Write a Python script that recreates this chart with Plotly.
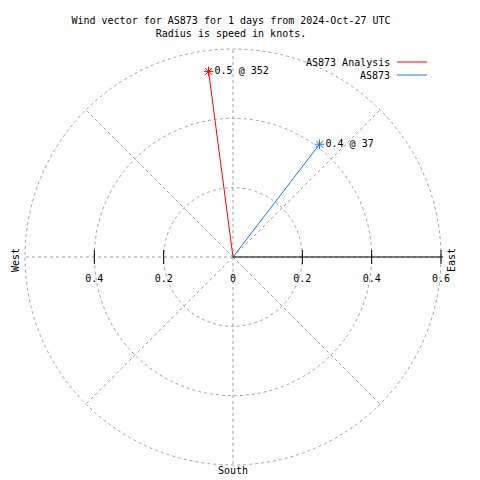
import plotly.graph_objects as go

# ---- data ----
series_names = ["AS873 Analysis", "AS873"]
speeds = [0.54, 0.41]            # knots
directions = [352.5, 37.5]       # degrees, clockwise from north
point_labels = ["0.5 @ 352", "0.4 @ 37"]
series_colors = ["#ff0000", "#1e78e6"]

radial_tick_vals = [0.2, 0.4, 0.6]
east_tick_vals = [0.2, 0.4, 0.6]
east_tick_text = ["0.2", "0.4", "0.6"]
west_tick_vals = [0.2, 0.4]
west_tick_text = ["0.2", "0.4"]
radial_max = 0.6
grid_angles = [0, 45, 90, 135, 180, 225, 270, 315]

title_text = "Wind vector for AS873 for 1 days from 2024-Oct-27 UTC<br>Radius is speed in knots."

FONT = "DejaVu Sans Mono"
GRID = "#a0a0a0"
W = H = 480
OFF = 8  # page body margin offset

def px(x):
    return (x - OFF) / W

def py(y):
    return 1 - (y - OFF) / H

fig = go.Figure()

# vectors
for name, s, d, col in zip(series_names, speeds, directions, series_colors):
    fig.add_trace(go.Scatterpolar(
        r=[0, s], theta=[d, d], mode="lines",
        line=dict(color=col, width=1), name=name, showlegend=False))

for s, d, lab, col in zip(speeds, directions, point_labels, series_colors):
    fig.add_trace(go.Scatterpolar(
        r=[s], theta=[d], mode="markers+text",
        marker=dict(symbol="asterisk-open", size=8, color=col,
                    line=dict(color=col, width=1)),
        text=[lab], textposition="middle right",
        textfont=dict(family=FONT, size=10, color="black"),
        showlegend=False, hoverinfo="skip"))

# radial tick marks on both sides
tick_r = east_tick_vals + west_tick_vals
tick_theta = [90] * len(east_tick_vals) + [270] * len(west_tick_vals)
fig.add_trace(go.Scatterpolar(
    r=tick_r, theta=tick_theta, mode="markers",
    marker=dict(symbol="line-ns-open", size=10, color="black",
                line=dict(color="black", width=1)),
    showlegend=False, hoverinfo="skip"))

# radial tick labels
lab_r = [0] + east_tick_vals + west_tick_vals
lab_theta = [90] + [90] * len(east_tick_vals) + [270] * len(west_tick_vals)
lab_text = ["0"] + east_tick_text + west_tick_text
fig.add_trace(go.Scatterpolar(
    r=lab_r, theta=lab_theta, mode="markers+text",
    marker=dict(size=6, opacity=0),
    text=["<br>" + t for t in lab_text], textposition="bottom center",
    textfont=dict(family=FONT, size=10, color="black"),
    showlegend=False, hoverinfo="skip"))

# geometry of the polar area (page pixels)
cx, cy, rad = 233, 257, 208
rng_max = radial_max * 1.01
R = rad * rng_max / radial_max

# custom gnuplot-style legend (text then line sample)
annotations = []
shapes = []
for i, (name, col) in enumerate(zip(series_names, series_colors)):
    yy = 62 + 13 * i
    annotations.append(dict(text=name, x=px(392), y=py(yy), xref="paper", yref="paper",
                            xanchor="right", yanchor="middle", showarrow=False,
                            font=dict(family=FONT, size=10, color="black")))
    shapes.append(dict(type="line", xref="paper", yref="paper",
                       x0=px(397), x1=px(427), y0=py(yy), y1=py(yy),
                       line=dict(color=col, width=1)))

annotations += [
    dict(text="West", x=px(15), y=py(260), xref="paper", yref="paper",
         xanchor="center", yanchor="middle",
         showarrow=False, textangle=-90, font=dict(family=FONT, size=10)),
    dict(text="East", x=px(451), y=py(260), xref="paper", yref="paper",
         xanchor="center", yanchor="middle",
         showarrow=False, textangle=-90, font=dict(family=FONT, size=10)),
    dict(text="South", x=px(233), y=py(470), xref="paper", yref="paper",
         xanchor="center", yanchor="middle",
         showarrow=False, font=dict(family=FONT, size=10)),
]

fig.update_layout(
    width=W, height=H,
    margin=dict(l=0, r=0, t=0, b=0),
    paper_bgcolor="white",
    font=dict(family=FONT, size=10, color="black"),
    title=dict(text=title_text, x=px(231), xanchor="center",
               y=1 - 16 / H, yanchor="top", yref="container",
               font=dict(family=FONT, size=10, color="black")),
    polar=dict(
        domain=dict(x=[px(cx - R), px(cx + R)], y=[py(cy + R), py(cy - R)]),
        bgcolor="white",
        radialaxis=dict(range=[0, rng_max], tickvals=radial_tick_vals,
                        showticklabels=False, ticks="",
                        showline=True, linecolor="black", linewidth=1,
                        showgrid=True, gridcolor=GRID, gridwidth=1, griddash="3px,3px",
                        angle=0),
        angularaxis=dict(rotation=90, direction="clockwise",
                         tickvals=grid_angles, showticklabels=False, ticks="",
                         showline=False, showgrid=True, gridcolor=GRID,
                         gridwidth=1, griddash="3px,3px"),
    ),
    showlegend=False,
    annotations=annotations,
    shapes=shapes,
)

fig.write_html("out.html")
